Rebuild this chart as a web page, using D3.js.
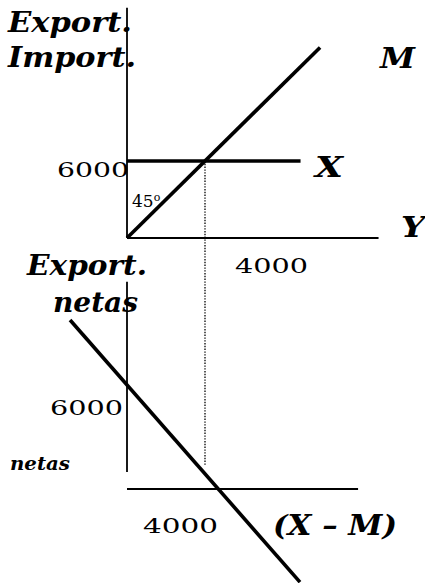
<!DOCTYPE html>
<html>
<head>
<meta charset="utf-8">
<script src="https://cdn.jsdelivr.net/npm/d3@7"></script>
<style>
  body { margin: 0; background: #fff; }
  svg text { font-family: "DejaVu Serif", "Liberation Serif", serif; fill: #000; }
</style>
</head>
<body>
<svg id="chart" width="425" height="583"></svg>
<script>
// datos (unidades del gráfico)
const incomeTick = 4000;          // Y de equilibrio
const exportLevel = 6000;         // X constante
const importLine = [[0, 0], [9900, 14850]];        // M (45º)
const exportLine = [[0, 6000], [8900, 6000]];      // X
const netExportLine = [[-2920, 9750], [8870, -5370]]; // (X - M)
const topAxisMax = { y: 12900, e: 17950 };
const botAxis = { yMax: 11850, eMax: 11950, eMin: 980 };
const dottedBottom = 1385;

const svg = d3.select("#chart");

const x = d3.scaleLinear().domain([0, 4000]).range([127, 205]);
const yTop = d3.scaleLinear().domain([0, 6000]).range([238, 161]);
const yBot = d3.scaleLinear().domain([0, 6000]).range([489, 385]);

const lineTop = d3.line().x(d => x(d[0])).y(d => yTop(d[1]));
const lineBot = d3.line().x(d => x(d[0])).y(d => yBot(d[1]));

// Ejes superiores
svg.append("path").attr("d", lineTop([[0, 0], [0, topAxisMax.e]]))
  .attr("stroke", "#000").attr("stroke-width", 1.8).attr("fill", "none");
svg.append("path").attr("d", lineTop([[0, 0], [topAxisMax.y, 0]]))
  .attr("stroke", "#000").attr("stroke-width", 1.8).attr("fill", "none");

// Ejes inferiores
svg.append("path").attr("d", lineBot([[0, botAxis.eMin], [0, botAxis.eMax]]))
  .attr("stroke", "#000").attr("stroke-width", 1.8).attr("fill", "none");
svg.append("path").attr("d", lineBot([[0, 0], [botAxis.yMax, 0]]))
  .attr("stroke", "#000").attr("stroke-width", 1.8).attr("fill", "none");

// Línea punteada
svg.append("line")
  .attr("x1", x(incomeTick)).attr("y1", yTop(exportLevel))
  .attr("x2", x(incomeTick)).attr("y2", yBot(dottedBottom))
  .attr("stroke", "#000").attr("stroke-width", 1.3)
  .attr("stroke-dasharray", "1.4,1.4");

// X, M, X-M
[[lineTop(exportLine)], [lineTop(importLine)], [lineBot(netExportLine)]].forEach(([d]) => {
  svg.append("path").attr("d", d)
    .attr("stroke", "#000").attr("stroke-width", 3.6)
    .attr("fill", "none").attr("stroke-linecap", "butt");
});

// textos
function label(t, px, py, size, len, bold) {
  const el = svg.append("text")
    .attr("x", px).attr("y", py)
    .style("font-size", size + "px")
    .text(t);
  if (bold) el.style("font-weight", "bold").style("font-style", "italic");
  if (len) el.attr("textLength", len).attr("lengthAdjust", "spacingAndGlyphs");
  return el;
}

label("Export.", 8, 32, 27, 124, true);
label("Import.", 8, 67, 27, 128, true);
label("M", 380, 68, 27, 35, true);
label("X", 315, 177, 27, 28, true);
label("Y", 401, 237, 27, 24, true);
label("6000", 57, 177, 21, 72, false);
label("4000", 235, 273, 21, 73, false);

// 45º con la "o" elevada
const deg = label("45", 132, 207, 17, null, false);
deg.append("tspan").attr("dy", -6).style("font-size", "11px").text("o");

label("Export.", 27, 275, 27, 120, true);
label("netas", 53, 312, 27, 85, true);
label("6000", 50, 415, 21, 73, false);
label("netas", 10, 470, 18, 60, true);
label("4000", 143, 533, 21, 75, false);
label("(X – M)", 273, 535, 27, 124, true);
</script>
</body>
</html>
